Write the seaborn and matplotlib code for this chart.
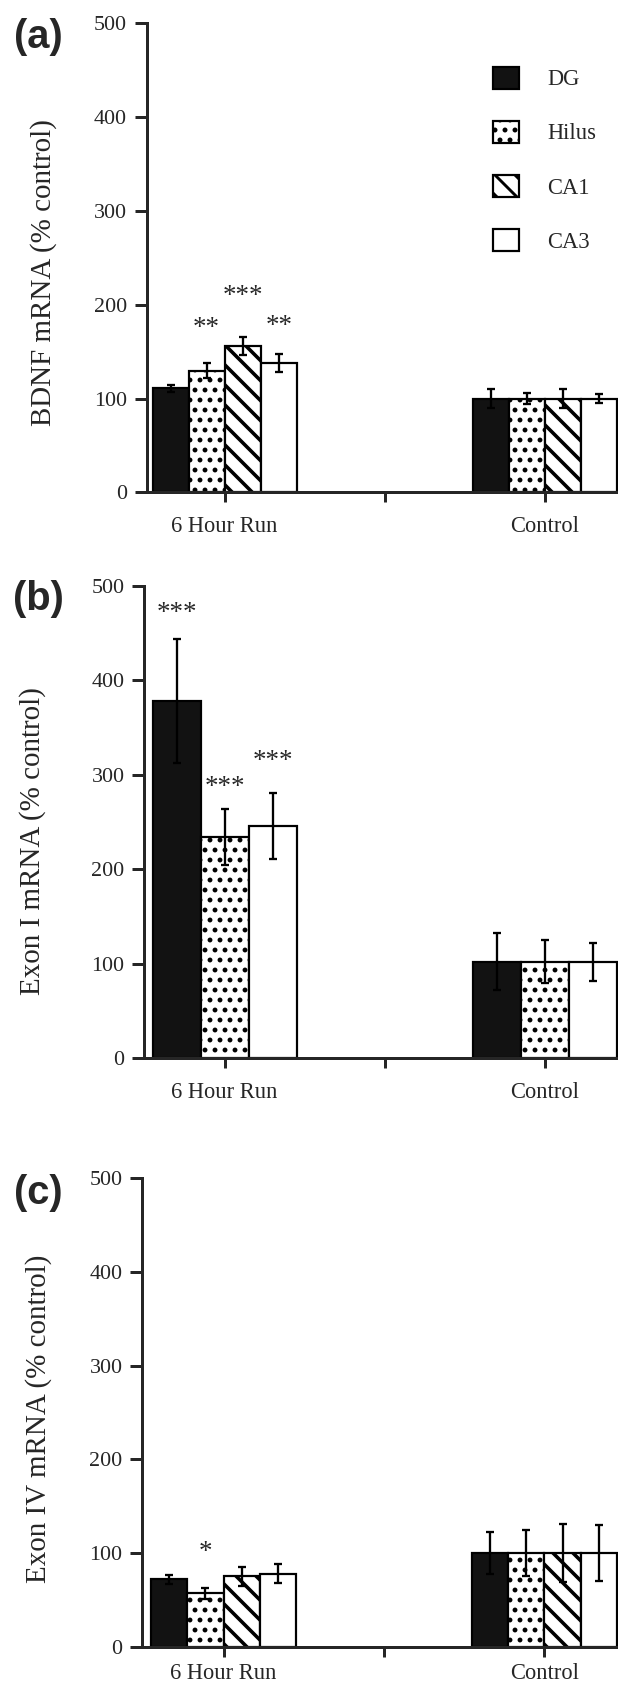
import numpy as np
import pandas as pd
import matplotlib
matplotlib.use('Agg')
import matplotlib.pyplot as plt
import matplotlib.patches as mpatches
import seaborn as sns

# values
regions = ['DG', 'Hilus', 'CA1', 'CA3']
exon1_regions = ['DG', 'Hilus', 'CA3']   # panel (b) has no CA1 bar
conditions = ['6 Hour Run', 'Control']
y_ticks = [0, 100, 200, 300, 400, 500]

bdnf_run = [111, 130, 156, 138]
bdnf_run_err = [4, 8, 10, 10]
bdnf_ctrl = [100, 100, 100, 100]
bdnf_ctrl_err = [10, 6, 10, 5]
bdnf_stars = ['', '**', '***', '**']
bdnf_star_y = [0, 168, 202, 170]

exon1_run = [378, 234, 246]
exon1_run_err = [66, 30, 35]
exon1_ctrl = [102, 102, 102]
exon1_ctrl_err = [30, 23, 20]
exon1_stars = ['***', '***', '***']
exon1_star_y = [464, 280, 307]

exon4_run = [72, 57, 75, 78]
exon4_run_err = [5, 6, 10, 10]
exon4_ctrl = [100, 100, 100, 100]
exon4_ctrl_err = [22, 25, 31, 30]
exon4_stars = ['', '*', '', '']
exon4_star_y = [0, 94, 0, 0]

sns.set_style('ticks')
plt.rcParams['font.family'] = ['Liberation Serif', 'DejaVu Serif']
plt.rcParams['hatch.linewidth'] = 3.5

# dpi 60 -> hatch tile of 60 px, so '.' and '\\' repeat every 10 px
DPI = 60
PT = 72.0 / DPI   # points per pixel
fills = {'DG': '#121212', 'Hilus': 'white', 'CA1': 'white', 'CA3': 'white'}
hatches = {'DG': '', 'Hilus': '.', 'CA1': '\\', 'CA3': ''}
hatch_lw = {'DG': 1.0, 'Hilus': 3.4, 'CA1': 4.3, 'CA3': 1.0}


def draw_panel(ax, regs, run, run_err, ctrl, ctrl_err, stars, star_y, ylabel, xleft, xpad=14):
    df = pd.DataFrame({
        'condition': [conditions[0]] * len(regs) + [conditions[1]] * len(regs),
        'region': regs + regs,
        'value': run + ctrl,
        'err': run_err + ctrl_err,
    })
    order = [conditions[0], ' ', conditions[1]]
    sns.barplot(data=df, x='condition', y='value', hue='region', order=order,
                hue_order=regs, palette=fills, saturation=1, errorbar=None,
                width=0.9, edgecolor='black', linewidth=2.2 * PT, legend=False, ax=ax)

    slot = 0.9 / len(regs)
    for bar in list(ax.patches):
        xc = bar.get_x() + bar.get_width() / 2
        pos = int(round(xc))
        k = int(np.floor((xc - pos + 0.45) / slot + 1e-6))
        reg = regs[k]
        bar.set_hatch(hatches[reg])
        if hasattr(bar, 'set_hatch_linewidth'):
            bar.set_hatch_linewidth(hatch_lw[reg])
        row = df[(df['condition'] == order[pos]) & (df['region'] == reg)].iloc[0]
        ax.errorbar(xc, row['value'], yerr=row['err'], fmt='none', ecolor='black',
                    elinewidth=2.3 * PT, capsize=4 * PT, capthick=2.3 * PT, zorder=4)
        if pos == 0 and stars[k]:
            ax.text(xc, star_y[k], stars[k], ha='center', va='baseline', fontsize=27 * PT)

    ax.set_xlim(xleft, 2.458)
    ax.set_ylim(0, 500)
    ax.set_yticks(y_ticks)
    ax.set_xlabel('')
    ax.set_ylabel(ylabel, fontsize=29 * PT)
    sns.despine(ax=ax)
    for s in ['left', 'bottom']:
        ax.spines[s].set_linewidth(3 * PT)
    ax.tick_params(axis='y', labelsize=22 * PT, length=12.5 * PT, width=3 * PT, pad=7 * PT)
    ax.tick_params(axis='x', labelsize=22.5 * PT, length=10 * PT, width=3 * PT, pad=xpad * PT)


fig = plt.figure(figsize=(618 / DPI, 1686 / DPI), dpi=DPI)
W, H = 618.0, 1686.0

# panel (a)
ax_a = fig.add_axes([146.6 / W, 1 - 492.5 / H, 1 - 146.6 / W, (492.5 - 23.3) / H])
draw_panel(ax_a, regions, bdnf_run, bdnf_run_err, bdnf_ctrl, bdnf_ctrl_err,
           bdnf_stars, bdnf_star_y, 'BDNF mRNA (% control)', -0.488)
ax_a.yaxis.set_label_coords(-0.19, 0.469)

handles = []
for r in regions:
    p = mpatches.Patch(facecolor=fills[r], edgecolor='black', hatch=hatches[r],
                       linewidth=2.2 * PT, label=r)
    if hasattr(p, 'set_hatch_linewidth'):
        p.set_hatch_linewidth(hatch_lw[r])
    handles.append(p)
fig.legend(handles=handles, loc='upper left', bbox_to_anchor=(493 / W, 1 - 66.7 / H),
           frameon=False, fontsize=22.5 * PT, handlelength=1.16, handleheight=1.12,
           labelspacing=1.36, handletextpad=1.25, borderpad=0, borderaxespad=0)

# panel (b)
ax_b = fig.add_axes([144 / W, 1 - 1058 / H, 1 - 144 / W, (1058 - 586) / H])
draw_panel(ax_b, exon1_regions, exon1_run, exon1_run_err, exon1_ctrl, exon1_ctrl_err,
           exon1_stars, exon1_star_y, 'Exon I mRNA (% control)', -0.504)
ax_b.yaxis.set_label_coords(-0.207, 0.46)

# panel (c) - labels sit right at the bottom edge, so a smaller pad
ax_c = fig.add_axes([142 / W, 1 - 1646.7 / H, 1 - 142 / W, (1646.7 - 1178.3) / H])
draw_panel(ax_c, regions, exon4_run, exon4_run_err, exon4_ctrl, exon4_ctrl_err,
           exon4_stars, exon4_star_y, 'Exon IV mRNA (% control)', -0.508, xpad=6)
ax_c.yaxis.set_label_coords(-0.19, 0.487)

for letter, yc in [('(a)', 36.7), ('(b)', 599.5), ('(c)', 1193)]:
    fig.text(38 / W, 1 - yc / H, letter, ha='center', va='center', fontsize=40 * PT,
             fontweight='bold', family=['Liberation Sans', 'DejaVu Sans'])

fig.savefig('out.png', dpi=DPI)
